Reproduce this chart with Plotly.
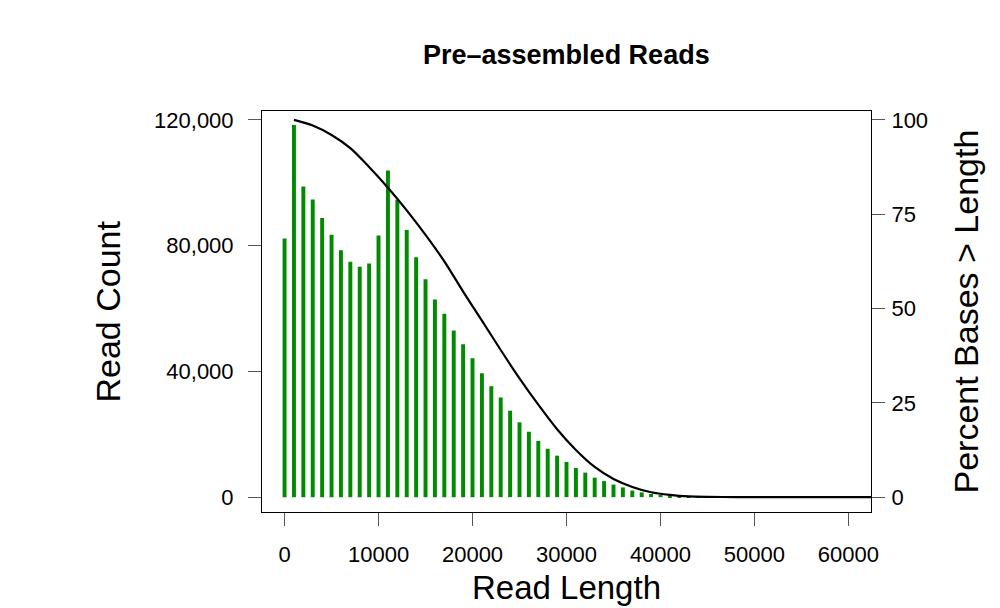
import plotly.graph_objects as go

# Read-length histogram (bins every 1000 bp)
read_length = [0, 1000, 2000, 3000, 4000, 5000, 6000, 7000, 8000, 9000,
               10000, 11000, 12000, 13000, 14000, 15000, 16000, 17000, 18000, 19000,
               20000, 21000, 22000, 23000, 24000, 25000, 26000, 27000, 28000, 29000,
               30000, 31000, 32000, 33000, 34000, 35000, 36000, 37000, 38000, 39000,
               40000, 41000, 42000, 43000, 44000, 45000, 46000, 47000, 48000]
read_count = [82300, 118400, 98800, 94700, 88800, 83500, 78500, 74900, 73300, 74300,
              83200, 103900, 94600, 85000, 76300, 69300, 62900, 58300, 53000, 48600,
              44200, 39400, 35300, 31700, 27500, 23800, 20800, 17900, 15400, 13200,
              11200, 9300, 7800, 6200, 5100, 4000, 3100, 2100, 1500, 1000,
              760, 450, 250, 160, 110, 80, 60, 40, 30]

# Percent of bases in reads longer than the given length
curve_length = [1000, 3000, 5000, 7000, 9000, 11000, 13000, 15000, 17000, 19000,
                21000, 23000, 25000, 27000, 29000, 31000, 33000, 35000, 37000, 39000,
                41000, 43000, 45000, 48000, 52000, 63000]
percent_bases = [100, 98.5, 96, 92.5, 87.5, 82, 76, 69.5, 62.5, 54.5,
                 46.8, 39, 31.5, 24.5, 18, 12.5, 8, 4.8, 2.7, 1.3,
                 0.6, 0.2, 0.08, 0.02, 0, 0]

x_ticks = [0, 10000, 20000, 30000, 40000, 50000, 60000]
x_tick_labels = ["0", "10000", "20000", "30000", "40000", "50000", "60000"]
y_ticks = [0, 40000, 80000, 120000]
y_tick_labels = ["0", "40,000", "80,000", "120,000"]
y2_ticks = [0, 25, 50, 75, 100]
y2_tick_labels = ["0", "25", "50", "75", "100"]

FONT = "Liberation Sans, Arial, Helvetica, sans-serif"

fig = go.Figure()
fig.add_trace(go.Bar(x=read_length, y=read_count, width=420,
                     marker=dict(color="#008B00", line=dict(width=0)),
                     yaxis="y", showlegend=False))
fig.add_trace(go.Scatter(x=curve_length, y=percent_bases, mode="lines",
                         line=dict(color="black", width=2.2, shape="spline",
                                   smoothing=0.8),
                         yaxis="y2", showlegend=False))

axis_common = dict(showgrid=False, zeroline=False, ticks="outside", ticklen=13,
                   tickcolor="#555555", tickwidth=1,
                   tickfont=dict(family=FONT, size=22, color="black"))

fig.update_layout(
    width=1000, height=608,
    margin=dict(l=262, r=129, t=111, b=96),
    paper_bgcolor="white", plot_bgcolor="white",
    xaxis=dict(range=[-2400, 62400], tickvals=x_ticks, ticktext=x_tick_labels,
               showline=True, mirror=True, linecolor="black", linewidth=1,
               ticklabelstandoff=10, **axis_common),
    yaxis=dict(range=[-4724, 122824], tickvals=y_ticks, ticktext=y_tick_labels,
               showline=True, mirror=True, linecolor="black", linewidth=1,
               ticklabelstandoff=10, **axis_common),
    yaxis2=dict(range=[-4724 / 1200, 122824 / 1200], tickvals=y2_ticks,
                ticktext=y2_tick_labels, overlaying="y", side="right",
                showline=False, ticklabelstandoff=2, **axis_common),
    annotations=[
        dict(text="<b>Pre–assembled Reads</b>", xref="paper", yref="paper",
             x=0.5, y=(512 - 55) / 401, xanchor="center", yanchor="middle",
             showarrow=False, font=dict(family=FONT, size=27, color="black")),
        dict(text="Read Count", xref="paper", yref="paper",
             x=(107 - 262) / 609, y=0.5, xanchor="center", yanchor="middle",
             textangle=-90, showarrow=False,
             font=dict(family=FONT, size=34, color="black")),
        dict(text="Percent Bases > Length", xref="paper", yref="paper",
             x=(965 - 262) / 609, y=0.5, xanchor="center", yanchor="middle",
             textangle=-90, showarrow=False,
             font=dict(family=FONT, size=34, color="black")),
        dict(text="Read Length", xref="paper", yref="paper",
             x=0.5, y=(512 - 587) / 401, xanchor="center", yanchor="middle",
             showarrow=False, font=dict(family=FONT, size=33, color="black")),
    ],
)

fig.write_html("out.html")
